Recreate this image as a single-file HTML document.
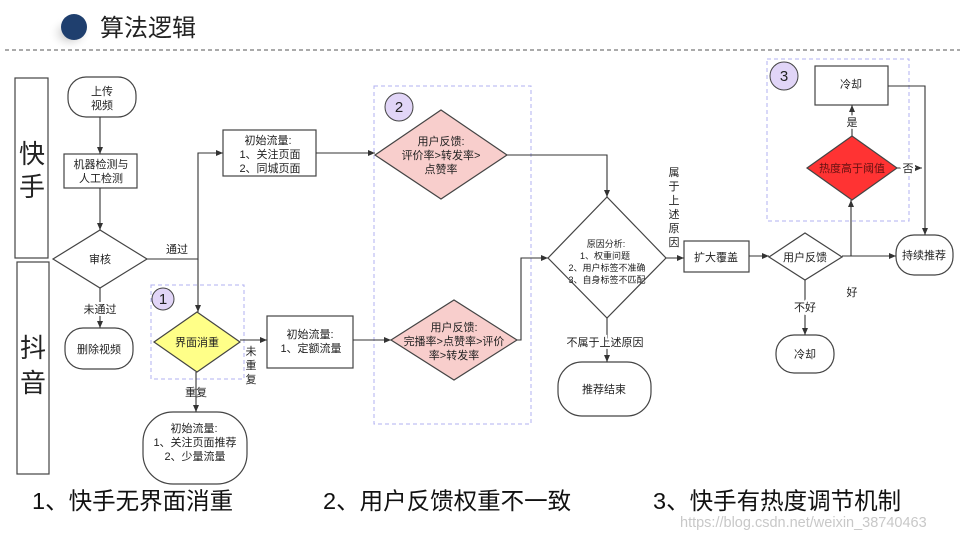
<!DOCTYPE html>
<html><head><meta charset="utf-8"><style>
body{margin:0;background:#fff}
svg{display:block;font-family:"Liberation Sans","Noto Sans CJK SC",sans-serif}
</style></head><body>
<svg width="960" height="540" viewBox="0 0 960 540" xmlns="http://www.w3.org/2000/svg">
<defs>
<marker id="a" markerWidth="8" markerHeight="8" refX="7" refY="4" orient="auto" markerUnits="userSpaceOnUse"><path d="M0,1 L7,4 L0,7 Z" fill="#333"/></marker>
<radialGradient id="sh" cx="0.5" cy="0.5" r="0.5"><stop offset="0" stop-color="#888" stop-opacity="0.7"/><stop offset="1" stop-color="#fff" stop-opacity="0"/></radialGradient>
</defs>
<ellipse cx="70" cy="33" rx="22" ry="18" fill="url(#sh)"/>
<circle cx="74" cy="27" r="13" fill="#1f3f6e"/>
<text x="100" y="36" font-size="24" fill="#222">算法逻辑</text>
<line x1="5" y1="50" x2="960" y2="50" stroke="#555" stroke-dasharray="4,3"/>

<g fill="none" stroke="#444" stroke-width="1.2">
<rect x="15" y="78" width="33" height="180"/>
<rect x="17" y="262" width="32" height="212"/>
</g>
<g font-size="26" fill="#222" text-anchor="middle">
<text x="32" y="163">快</text><text x="32" y="196">手</text>
<text x="33" y="357">抖</text><text x="33" y="392">音</text>
</g>

<g fill="none" stroke-dasharray="4,3" stroke="#b0b0f0">
<rect x="151" y="285" width="93" height="94"/>
<rect x="374" y="86" width="157" height="338"/>
<rect x="767" y="59" width="142" height="162"/>
</g>
<g fill="#e1d5f7" stroke="#444">
<circle cx="163" cy="299" r="11"/><circle cx="399" cy="107" r="14"/><circle cx="784" cy="76" r="14"/>
</g>
<g font-size="15" text-anchor="middle" fill="#222">
<text x="163" y="304">1</text><text x="399" y="112">2</text><text x="784" y="81">3</text>
</g>

<g stroke="#444" stroke-width="1.2" fill="#fff">
<rect x="68" y="77" width="68" height="40" rx="18"/>
<rect x="64" y="154" width="73" height="34"/>
<polygon points="53,259 100,230 147,259 100,288"/>
<rect x="65" y="328" width="68" height="41" rx="18"/>
<rect x="223" y="130" width="93" height="46"/>
<polygon points="154,342 197,312 240,342 197,372" fill="#ffff88"/>
<rect x="267" y="316" width="86" height="52"/>
<rect x="143" y="412" width="104" height="72" rx="30"/>
<polygon points="375,155 441,110 507,155 441,199" fill="#f8cecc"/>
<polygon points="391,340 454,300 517,340 454,380" fill="#f8cecc"/>
<polygon points="548,258 607,197 666,258 607,318"/>
<rect x="558" y="362" width="93" height="54" rx="24"/>
<rect x="684" y="241" width="65" height="31"/>
<polygon points="769,257 805,233 842,257 805,280"/>
<rect x="896" y="235" width="57" height="40" rx="18"/>
<polygon points="807,168 852,136 897,168 852,200" fill="#ff3333"/>
<rect x="815" y="66" width="73" height="39"/>
<rect x="776" y="335" width="58" height="38" rx="18"/>
</g>

<g stroke="#333" stroke-width="1.1" fill="none" marker-end="url(#a)">
<line x1="100" y1="117" x2="100" y2="154"/>
<line x1="100" y1="188" x2="100" y2="230"/>
<line x1="100" y1="288" x2="100" y2="328"/>
<polyline points="147,259 198,259 198,153 223,153"/>
<line x1="198" y1="259" x2="198" y2="312"/>
<line x1="240" y1="340" x2="267" y2="340"/>
<line x1="196" y1="372" x2="196" y2="412"/>
<line x1="316" y1="153" x2="375" y2="153"/>
<line x1="353" y1="340" x2="391" y2="340"/>
<polyline points="507,155 607,155 607,197"/>
<polyline points="517,340 521,340 521,258 548,258"/>
<line x1="607" y1="318" x2="607" y2="362"/>
<line x1="666" y1="258" x2="684" y2="258"/>
<line x1="749" y1="256" x2="769" y2="256"/>
<line x1="842" y1="256" x2="896" y2="256"/>
<line x1="851" y1="256" x2="851" y2="200"/>
<line x1="852" y1="136" x2="852" y2="105"/>
<polyline points="888,86 925,86 925,235"/>
<line x1="897" y1="168" x2="922" y2="168"/>
<line x1="805" y1="280" x2="805" y2="335"/>
</g>

<g font-size="11" fill="#222" text-anchor="middle">
<text x="102" y="95">上传</text><text x="102" y="109">视频</text>
<text x="101" y="168">机器检测与</text><text x="101" y="182">人工检测</text>
<text x="100" y="263">审核</text>
<text x="100" y="313" fill="#fff" stroke="#fff" stroke-width="4">未通过</text>
<text x="100" y="313">未通过</text>
<text x="99" y="353">删除视频</text>
<text x="177" y="253">通过</text>
<text x="268" y="144">初始流量:</text><text x="270" y="158">1、关注页面</text><text x="270" y="172">2、同城页面</text>
<text x="197" y="346">界面消重</text>
<text x="251" y="355">未</text><text x="251" y="369">重</text><text x="251" y="383">复</text>
<text x="310" y="338">初始流量:</text><text x="311" y="352">1、定额流量</text>
<text x="196" y="396">重复</text>
<text x="194" y="432">初始流量:</text><text x="195" y="446">1、关注页面推荐</text><text x="195" y="460">2、少量流量</text>
<text x="441" y="145">用户反馈:</text><text x="441" y="159">评价率&gt;转发率&gt;</text><text x="441" y="173">点赞率</text>
<text x="454" y="331">用户反馈:</text><text x="454" y="345">完播率&gt;点赞率&gt;评价</text><text x="454" y="359">率&gt;转发率</text>
<text x="605" y="346" fill="#fff" stroke="#fff" stroke-width="4">不属于上述原因</text>
<text x="605" y="346">不属于上述原因</text>
<text x="604" y="393">推荐结束</text>
<text x="716" y="261">扩大覆盖</text>
<text x="805" y="261">用户反馈</text>
<text x="924" y="259">持续推荐</text>
<text x="852" y="172" fill="#661111">热度高于阈值</text>
<text x="852" y="126" fill="#fff" stroke="#fff" stroke-width="4">是</text>
<text x="852" y="126">是</text>
<text x="908" y="172" fill="#fff" stroke="#fff" stroke-width="4">否</text>
<text x="908" y="172">否</text>
<text x="851" y="88">冷却</text>
<text x="852" y="296">好</text>
<text x="805" y="311" fill="#fff" stroke="#fff" stroke-width="4">不好</text>
<text x="805" y="311">不好</text>
<text x="805" y="358">冷却</text>
<text x="674" y="176">属</text><text x="674" y="190">于</text><text x="674" y="204">上</text><text x="674" y="218">述</text><text x="674" y="232">原</text><text x="674" y="246">因</text>
</g>
<g font-size="9" fill="#222" text-anchor="middle">
<text x="606" y="247">原因分析:</text><text x="605" y="259">1、权重问题</text><text x="607" y="271">2、用户标签不准确</text><text x="607" y="283">3、自身标签不匹配</text>
</g>

<g font-size="23.5" fill="#111">
<text x="32" y="509">1、快手无界面消重</text>
<text x="323" y="509">2、用户反馈权重不一致</text>
<text x="653" y="509">3、快手有热度调节机制</text>
</g>
<text x="680" y="527" font-size="14.5" fill="#c8c8c8">https://blog.csdn.net/weixin_38740463</text>
</svg>
</body></html>
